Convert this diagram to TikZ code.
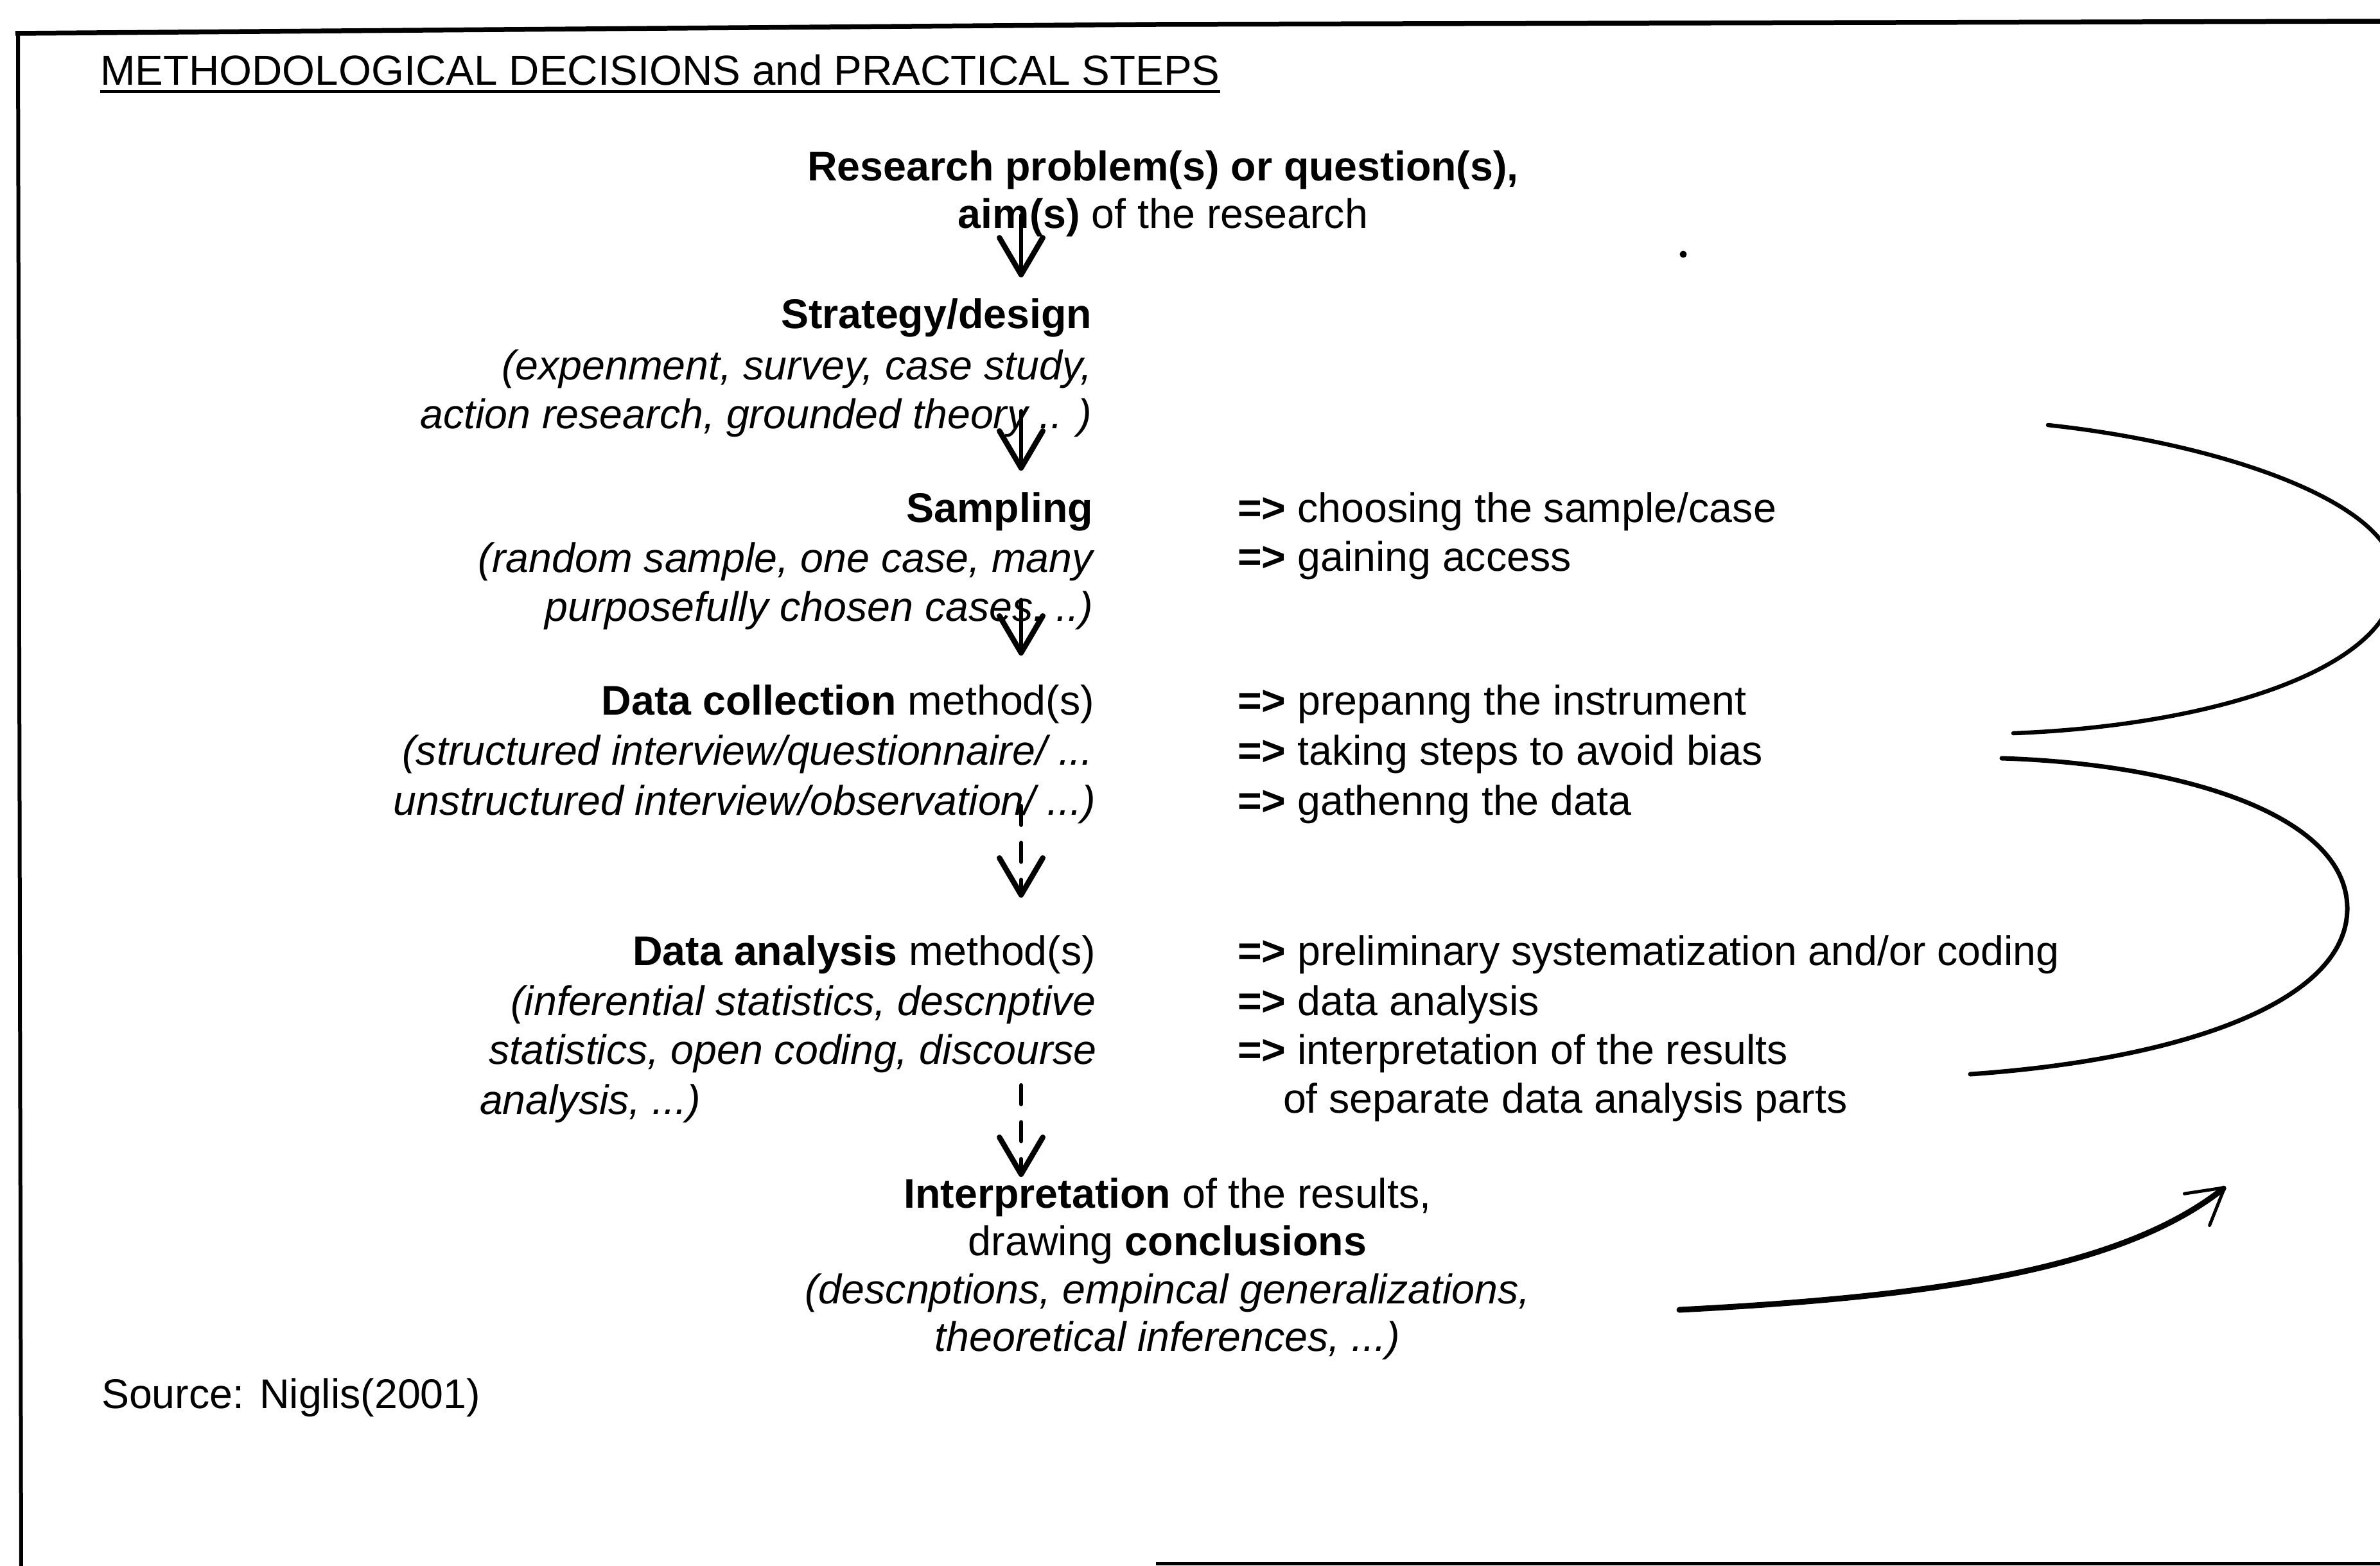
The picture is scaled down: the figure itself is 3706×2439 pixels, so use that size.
\documentclass[tikz,border=0pt]{standalone}
\usepackage{fontspec}
\setmainfont{Liberation Sans}
\usetikzlibrary{arrows.meta,calc}

\tikzset{
  txt/.style={inner sep=0pt, outer sep=0pt, font=\fontsize{12.9pt}{15.4pt}\selectfont},
  rline/.style={txt, anchor=base east},
  lline/.style={txt, anchor=base west},
  cline/.style={txt, anchor=base},
  itr/.style={rline, font=\fontsize{12.9pt}{15.4pt}\selectfont\itshape},
  itc/.style={cline, font=\fontsize{12.9pt}{15.4pt}\selectfont\itshape},
  itl/.style={lline, font=\fontsize{12.9pt}{15.4pt}\selectfont\itshape},
  flow/.style={line width=1.2pt, line cap=round,
    -{Straight Barb[length=11.5pt,width=13.5pt,line width=1.7pt,round]}},
  dflow/.style={flow, dash pattern=on 6pt off 5.5pt},
  bigcurve/.style={line width=1.3pt, line cap=round},
  boxline/.style={line width=1.5pt},
}

\begin{document}
\begin{tikzpicture}[x=0.2pt,y=-0.2pt]
\useasboundingbox (0,0) rectangle (3706,2439);
\begin{scope}
\clip (0,0) rectangle (3706,2439);

% frame (open at the right, partial at the bottom)
\draw[line width=1.2pt] (33,2445) -- (28,50);
\draw[boxline] (24,52) -- (1800,38) -- (3720,33);
\draw[line width=1pt] (1800,2435) -- (3720,2435);

% heading
\node[lline, font=\fontsize{13.1pt}{15.4pt}\selectfont] (title) at (156,132)
  {METHODOLOGICAL DECISIONS and PRACTICAL STEPS};
\draw[line width=1pt] ($(title.base west)+(0,10)$) -- ($(title.base east)+(0,10)$);

% main column
\node[cline] (res1) at (1811,281) {\bfseries Research problem(s) or question(s),};
\node[cline] (res2) at (1811,355) {\textbf{aim(s)} of the research};

\node[rline] (strat1) at (1700,511) {\bfseries Strategy/design};
\node[itr]   (strat2) at (1700,591) {(expenment, survey, case study,};
\node[itr]   (strat3) at (1700,667) {action research, grounded theory .. )};

\node[rline] (samp1) at (1702,813) {\bfseries Sampling};
\node[itr]   (samp2) at (1702,891) {(random sample, one case, many};
\node[itr]   (samp3) at (1702,967) {purposefully chosen cases, ..)};

\node[rline] (dc1) at (1704,1113) {\textbf{Data collection} method(s)};
\node[itr]   (dc2) at (1702,1191) {(structured interview/questionnaire/ ...};
\node[itr]   (dc3) at (1706,1269) {unstructured interview/observation/ ...)};

\node[rline] (da1) at (1706,1503) {\textbf{Data analysis} method(s)};
\node[itr]   (da2) at (1706,1581) {(inferential statistics, descnptive};
\node[itr]   (da3) at (1708,1657) {statistics, open coding, discourse};
\node[itl]   (da4) at (747,1735) {analysis, ...)};

\node[cline] (int1) at (1818,1881) {\textbf{Interpretation} of the results,};
\node[cline] (int2) at (1818,1955) {drawing \textbf{conclusions}};
\node[itc]   (int3) at (1818,2030) {(descnptions, empincal generalizations,};
\node[itc]   (int4) at (1818,2104) {theoretical inferences, ...)};

% practical steps
\node[lline] (r1) at (1927,813)  {\textbf{=>} choosing the sample/case};
\node[lline] (r2) at (1927,889)  {\textbf{=>} gaining access};
\node[lline] (r3) at (1927,1113) {\textbf{=>} prepanng the instrument};
\node[lline] (r4) at (1927,1191) {\textbf{=>} taking steps to avoid bias};
\node[lline] (r5) at (1927,1269) {\textbf{=>} gathenng the data};
\node[lline] (r6) at (1927,1503) {\textbf{=>} preliminary systematization and/or coding};
\node[lline] (r7) at (1927,1581) {\textbf{=>} data analysis};
\node[lline] (r8) at (1927,1657) {\textbf{=>} interpretation of the results};
\node[lline] (r9) at (1998,1733) {of separate data analysis parts};

\node[lline] (src) at (158,2193) {Source: Niglis(2001)};

% stray mark
\fill (2621,396) circle[radius=1.1pt];

% downward flow arrows
\coordinate (colx) at (1590,0);
\draw[flow]  ($(res2.base -| colx)+(0,-20)$)  -- ($(strat1.base -| colx)+(0,-79)$);
\draw[flow]  ($(strat3.base -| colx)+(0,-27)$) -- ($(samp1.base -| colx)+(0,-80)$);
\draw[flow]  ($(samp3.base -| colx)+(0,-33)$)  -- ($(dc1.base -| colx)+(0,-92)$);
\draw[dflow] ($(dc3.base -| colx)+(0,-14)$)    -- ($(da1.base -| colx)+(0,-105)$);
\draw[dflow] ($(da4.base -| colx)+(0,-45)$)    -- ($(int1.base -| colx)+(0,-48)$);

% feedback loops on the right
\coordinate (l1a) at (3189,662);
\coordinate (l1m) at (3730,900);
\coordinate (l1b) at (3135,1142);
\coordinate (l2a) at (3117,1181);
\coordinate (l2m) at (3655,1415);
\coordinate (l2b) at (3068,1673);
\draw[bigcurve] (l1a) .. controls (3450,690) and (3730,780) .. (l1m)
                      .. controls (3730,1040) and (3450,1130) .. (l1b);
\draw[bigcurve, line width=1.4pt] (l2a) .. controls (3400,1190) and (3655,1270) .. (l2m)
                      .. controls (3655,1560) and (3400,1650) .. (l2b);

% outgoing arrow from the conclusions
\coordinate (outa) at (2615,2040);
\coordinate (outb) at (3466,1848);
\draw[line width=1.8pt, line cap=round,
      -{Straight Barb[length=11pt,width=12.6pt,line width=1pt,round]}]
  (outa) .. controls (3000,2020) and (3300,1980) .. (outb);
\end{scope}
\end{tikzpicture}
\end{document}
